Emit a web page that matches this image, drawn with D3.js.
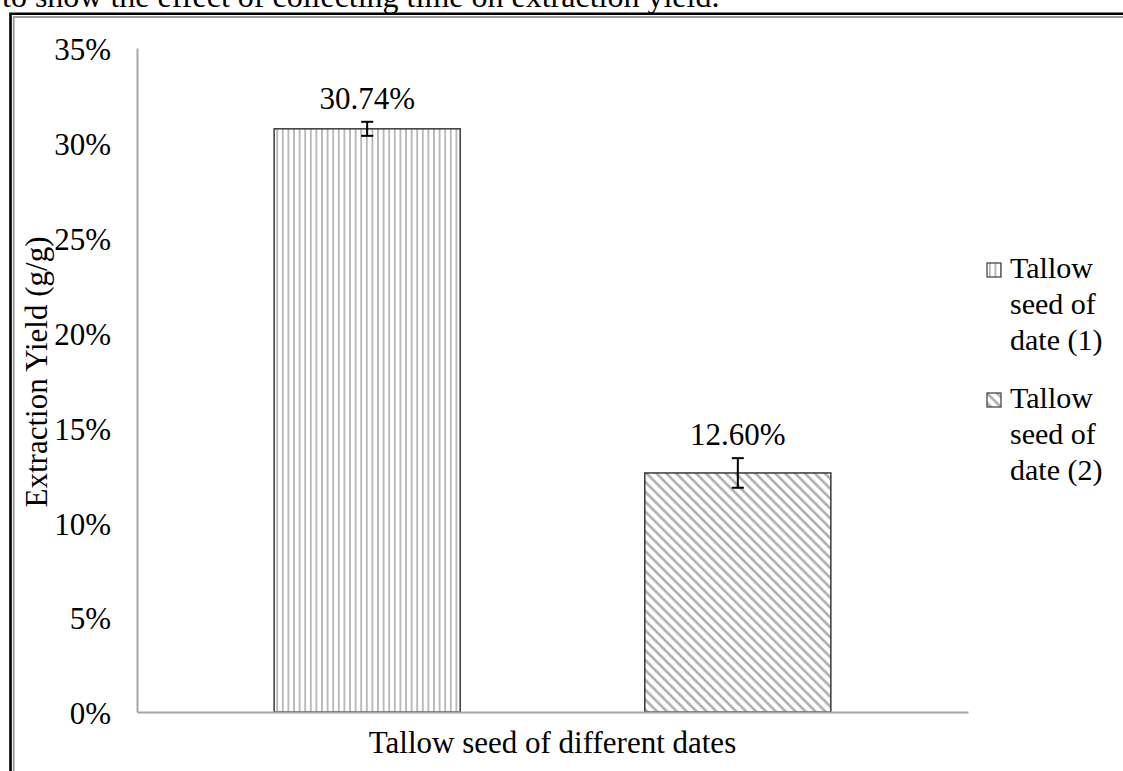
<!DOCTYPE html>
<html>
<head>
<meta charset="utf-8">
<script src="https://cdn.jsdelivr.net/npm/d3@7"></script>
<style>
  body { margin: 0; background: #fff; }
  svg text { font-family: "Liberation Serif", "Times New Roman", serif; }
</style>
</head>
<body>
<svg id="chart" width="1123" height="771"></svg>
<script>
// chart data
var seriesNames = ["Tallow seed of date (1)", "Tallow seed of date (2)"];
var legendLines = [["Tallow", "seed of", "date (1)"], ["Tallow", "seed of", "date (2)"]];
var yieldValues = [30.74, 12.60];
var errorValues = [0.37, 0.78];
var yTicks = [0, 5, 10, 15, 20, 25, 30, 35];
var xTitle = "Tallow seed of different dates";
var yTitle = "Extraction Yield (g/g)";
var caption = "to show the effect of collecting time on extraction yield.";

var serif = "Liberation Serif";
var svg = d3.select("#chart");

// plot area (window.top is read-only, so no "top" here)
var plotL = 137, plotR = 968, plotT = 48, plotB = 712;

// patterns
var defs = svg.append("defs");
var vert = defs.append("pattern")
    .attr("id", "vlines")
    .attr("patternUnits", "userSpaceOnUse")
    .attr("width", 5.6).attr("height", 10);
vert.append("rect").attr("width", 5.6).attr("height", 10).attr("fill", "#fff");
vert.append("line").attr("x1", 2.8).attr("x2", 2.8).attr("y1", 0).attr("y2", 10)
    .attr("stroke", "#9a9a9a").attr("stroke-width", 1.3);

var diag = defs.append("pattern")
    .attr("id", "dlines")
    .attr("patternUnits", "userSpaceOnUse")
    .attr("width", 7).attr("height", 7)
    .attr("patternTransform", "rotate(45)");
diag.append("rect").attr("width", 7).attr("height", 7).attr("fill", "#fff");
diag.append("line").attr("x1", 0).attr("x2", 7).attr("y1", 3.5).attr("y2", 3.5)
    .attr("stroke", "#a8a8a8").attr("stroke-width", 2.4);

var fills = ["url(#vlines)", "url(#dlines)"];

// page frame (double border)
svg.append("path").attr("d", "M10.5,771V13.8H1123").attr("fill", "none")
    .attr("stroke", "#000").attr("stroke-width", 2.6);
svg.append("path").attr("d", "M13.7,771V17H1123").attr("fill", "none")
    .attr("stroke", "#9a9a9a").attr("stroke-width", 1.8);

svg.append("text").attr("x", 2).attr("y", 7)
    .attr("font-family", serif).attr("font-size", 32).attr("fill", "#000")
    .text(caption);

// scales
var y = d3.scaleLinear().domain([0, 35]).range([plotB, plotT]);
var x = d3.scaleBand().domain(seriesNames).range([plotL, plotR])
    .paddingInner(0.498).paddingOuter(0.37);

// y axis
var yAxis = svg.append("g")
    .attr("transform", "translate(" + plotL + ",0)")
    .call(d3.axisLeft(y).tickValues(yTicks).tickFormat(function(d) { return d + "%"; })
        .tickSizeInner(0).tickSizeOuter(0).tickPadding(26));
yAxis.attr("font-family", serif).attr("font-size", 31);
yAxis.select(".domain").attr("stroke", "#a6a6a6").attr("stroke-width", 2);
yAxis.selectAll("text").attr("font-size", 31).attr("font-family", serif)
    .attr("fill", "#000").attr("dy", "0.38em");

// bars
svg.selectAll(".bar")
    .data(yieldValues)
    .enter().append("rect")
    .attr("class", "bar")
    .attr("x", function(d, i) { return x(seriesNames[i]); })
    .attr("y", function(d) { return y(d); })
    .attr("width", x.bandwidth())
    .attr("height", function(d) { return y(0) - y(d); })
    .attr("fill", function(d, i) { return fills[i]; })
    .attr("stroke", "#3a3a3a").attr("stroke-width", 1.5);

// x axis
var xAxis = svg.append("g")
    .attr("transform", "translate(0," + plotB + ")")
    .call(d3.axisBottom(x).tickFormat("").tickSizeInner(0).tickSizeOuter(0));
xAxis.select(".domain").attr("stroke", "#a6a6a6").attr("stroke-width", 2);

// error bars
var err = svg.selectAll(".err")
    .data(yieldValues)
    .enter().append("g")
    .attr("class", "err")
    .attr("stroke", "#000").attr("stroke-width", 2);
err.append("line")
    .attr("x1", function(d, i) { return x(seriesNames[i]) + x.bandwidth() / 2; })
    .attr("x2", function(d, i) { return x(seriesNames[i]) + x.bandwidth() / 2; })
    .attr("y1", function(d, i) { return y(d + errorValues[i]); })
    .attr("y2", function(d, i) { return y(d - errorValues[i]); });
[1, -1].forEach(function(s) {
  err.append("line")
    .attr("x1", function(d, i) { return x(seriesNames[i]) + x.bandwidth() / 2 - 6; })
    .attr("x2", function(d, i) { return x(seriesNames[i]) + x.bandwidth() / 2 + 6; })
    .attr("y1", function(d, i) { return y(d + s * errorValues[i]); })
    .attr("y2", function(d, i) { return y(d + s * errorValues[i]); });
});

// value labels
svg.selectAll(".val")
    .data(yieldValues)
    .enter().append("text")
    .attr("class", "val")
    .attr("x", function(d, i) { return x(seriesNames[i]) + x.bandwidth() / 2; })
    .attr("y", function(d, i) { return y(d + errorValues[i]) - 13; })
    .attr("text-anchor", "middle")
    .attr("font-family", serif).attr("font-size", 31)
    .text(function(d) { return d.toFixed(2) + "%"; });

// axis titles
svg.append("text")
    .attr("x", (plotL + plotR) / 2).attr("y", 753)
    .attr("text-anchor", "middle")
    .attr("font-family", serif).attr("font-size", 31)
    .text(xTitle);
svg.append("text")
    .attr("transform", "translate(47,372) rotate(-90)")
    .attr("text-anchor", "middle")
    .attr("font-family", serif).attr("font-size", 31)
    .text(yTitle);

// legend
var legend = svg.selectAll(".leg")
    .data(legendLines)
    .enter().append("g")
    .attr("class", "leg")
    .attr("transform", function(d, i) { return "translate(987," + (278 + i * 130) + ")"; });
legend.append("rect")
    .attr("x", 0).attr("y", -15).attr("width", 14).attr("height", 14)
    .attr("fill", function(d, i) { return fills[i]; })
    .attr("stroke", "#3a3a3a").attr("stroke-width", 1.2);
legend.append("text")
    .attr("font-family", serif).attr("font-size", 30)
    .selectAll("tspan")
    .data(function(d) { return d; })
    .enter().append("tspan")
    .attr("x", 23)
    .attr("y", function(d, j) { return j * 36; })
    .text(function(d) { return d; });
</script>
</body>
</html>
